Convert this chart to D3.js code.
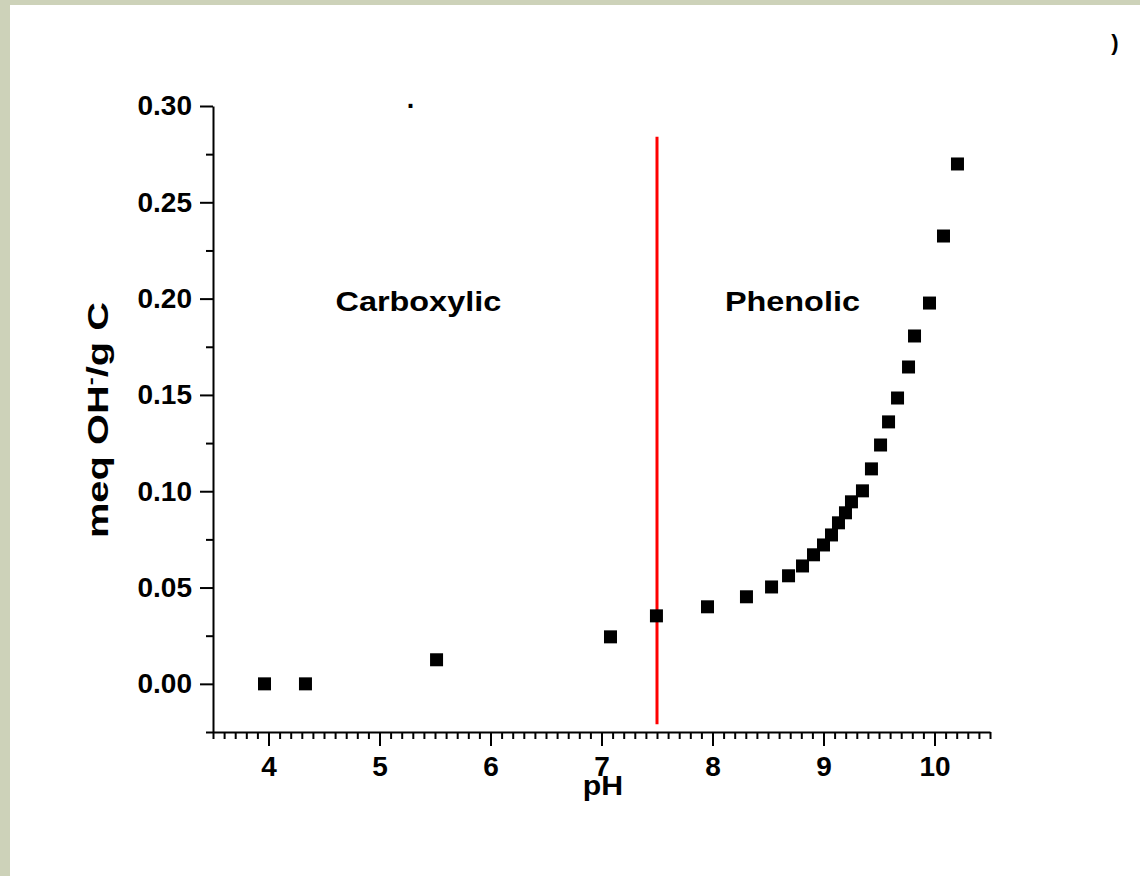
<!DOCTYPE html>
<html>
<head>
<meta charset="utf-8">
<script src="https://cdn.jsdelivr.net/npm/d3@7"></script>
<style>
  html, body { margin: 0; padding: 0; background: #cdd2b9; }
  svg { display: block; }
  text { font-family: "Liberation Sans", Arial, sans-serif; font-weight: bold; fill: #000; }
</style>
</head>
<body>
<svg id="chart" width="1140" height="876"></svg>
<script>
// Titration data: pH vs. base uptake (meq OH-/g C)
const ph  = [3.964, 4.333, 5.514, 7.081, 7.495, 7.955, 8.306, 8.532, 8.685, 8.811,
             8.910, 9.000, 9.072, 9.135, 9.198, 9.252, 9.351, 9.432, 9.514, 9.586,
             9.667, 9.766, 9.820, 9.955, 10.081, 10.207];
const meq = [0.000, 0.000, 0.0125, 0.0244, 0.0353, 0.0400, 0.0452, 0.0503, 0.0561, 0.0612,
             0.0670, 0.0721, 0.0773, 0.0836, 0.0888, 0.0945, 0.1002, 0.1116, 0.1240, 0.1360,
             0.1484, 0.1645, 0.1806, 0.1977, 0.2325, 0.2699];

const xTicks = [4, 5, 6, 7, 8, 9, 10];
const yTicks = [0.00, 0.05, 0.10, 0.15, 0.20, 0.25, 0.30];
const regionSplit = 7.5;           // boundary between the two acid groups
const regionLabels = [
  { text: "Carboxylic", x: 5.35, y: 0.20 },
  { text: "Phenolic",   x: 8.72, y: 0.20 }
];

const svg = d3.select("#chart");

// white plotting page
svg.append("rect").attr("x", 10).attr("y", 5).attr("width", 1130).attr("height", 871).attr("fill", "#fff");

const x = d3.scaleLinear().domain([3.5, 10.5]).range([213, 990]);
const y = d3.scaleLinear().domain([-0.025, 0.30]).range([732, 106]);

// x axis: major ticks every unit, minor every 0.1
const xMinor = d3.range(35, 106).map(d => d / 10).filter(d => !xTicks.includes(d));
svg.append("g").attr("transform", "translate(0,732)")
  .call(d3.axisBottom(x).tickValues(xMinor).tickSize(7).tickFormat("").tickSizeOuter(0))
  .call(g => g.select(".domain").remove())
  .call(g => g.selectAll("line").attr("stroke", "#000").attr("stroke-width", 2));
const gx = svg.append("g").attr("transform", "translate(0,732)")
  .call(d3.axisBottom(x).tickValues(xTicks).tickSize(14).tickSizeOuter(0).tickPadding(10).tickFormat(d3.format("d")));
gx.select(".domain").attr("stroke", "#000").attr("stroke-width", 2);
gx.selectAll("line").attr("stroke", "#000").attr("stroke-width", 2);
gx.selectAll("text").attr("font-size", 28).attr("font-family", null).attr("dy", "0.71em");

// y axis: major ticks every 0.05, minor every 0.025
const yMinor = d3.range(-1, 12).map(d => (d * 0.05 + 0.025));
svg.append("g").attr("transform", "translate(213,0)")
  .call(d3.axisLeft(y).tickValues(yMinor.filter(d => d < 0.3)).tickSize(7).tickFormat("").tickSizeOuter(0))
  .call(g => g.select(".domain").remove())
  .call(g => g.selectAll("line").attr("stroke", "#000").attr("stroke-width", 2));
const gy = svg.append("g").attr("transform", "translate(213,0)")
  .call(d3.axisLeft(y).tickValues(yTicks).tickSize(13).tickSizeOuter(0).tickPadding(8).tickFormat(d3.format(".2f")));
gy.select(".domain").attr("stroke", "#000").attr("stroke-width", 2);
gy.selectAll("line").attr("stroke", "#000").attr("stroke-width", 2);
gy.selectAll("text").attr("font-size", 28).attr("font-family", null);

// axis titles
svg.append("text").attr("transform", "translate(603,795) scale(1.08,1)")
  .attr("text-anchor", "middle").attr("font-size", 28).text("pH");

const yTitle = svg.append("text")
  .attr("transform", "translate(108,420) rotate(-90) scale(1.33,1)")
  .attr("text-anchor", "middle").attr("font-size", 30);
yTitle.append("tspan").text("meq OH");
yTitle.append("tspan").attr("dy", -11).attr("font-size", 18).text("-");
yTitle.append("tspan").attr("dy", 11).text("/g C");

// boundary between carboxylic and phenolic groups
svg.append("line")
  .attr("x1", x(regionSplit)).attr("x2", x(regionSplit))
  .attr("y1", y(0.284)).attr("y2", y(-0.021))
  .attr("stroke", "#ff0000").attr("stroke-width", 3);

// region labels
svg.selectAll("text.region").data(regionLabels).join("text")
  .attr("class", "region")
  .attr("transform", d => `translate(${x(d.x)},${y(d.y) + 12}) scale(1.2,1)`)
  .attr("text-anchor", "middle").attr("font-size", 27)
  .text(d => d.text);

// data markers
const size = 13;
svg.append("g").selectAll("rect").data(ph.map((p, i) => [p, meq[i]])).join("rect")
  .attr("x", d => x(d[0]) - size / 2)
  .attr("y", d => y(d[1]) - size / 2)
  .attr("width", size).attr("height", size)
  .attr("fill", "#000");

// stray glyphs at the top edge of the figure
svg.append("text").attr("x", x(5.28)).attr("y", 108).attr("text-anchor", "middle")
  .attr("font-size", 27).text(".");
svg.append("text").attr("x", 1115).attr("y", 50).attr("text-anchor", "middle")
  .attr("font-size", 22).attr("font-weight", "normal").text(")");
</script>
</body>
</html>
